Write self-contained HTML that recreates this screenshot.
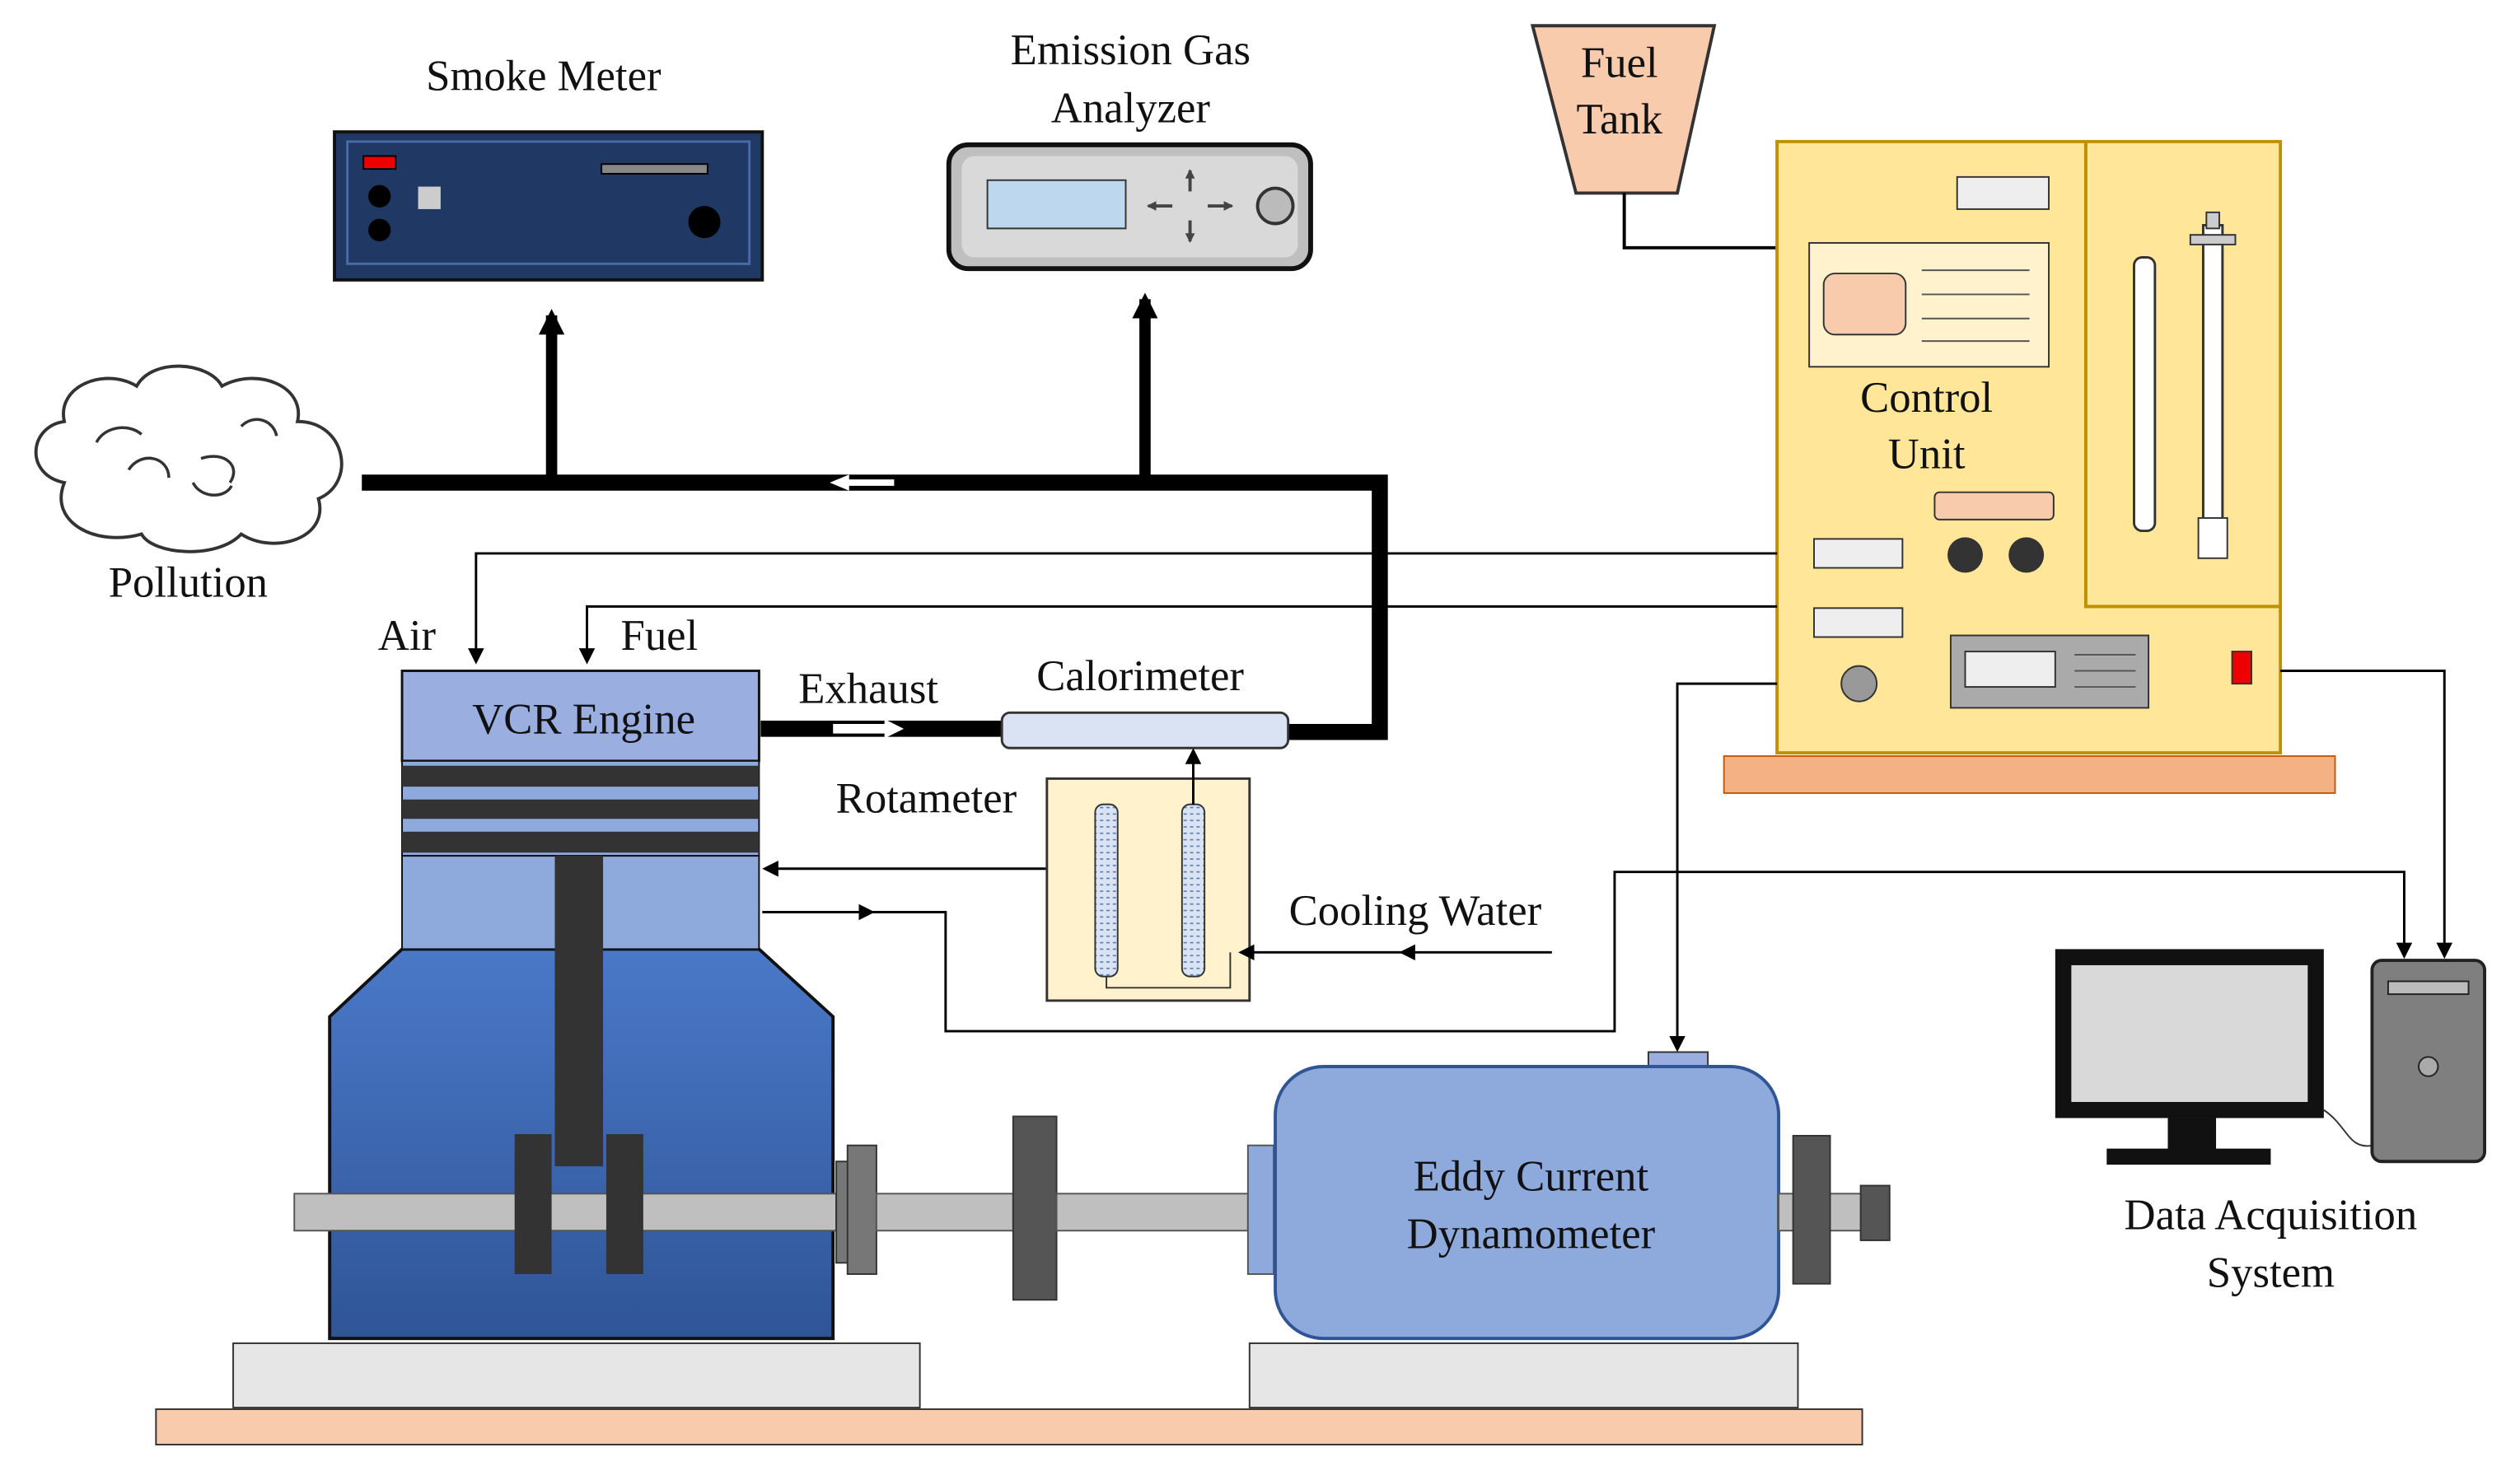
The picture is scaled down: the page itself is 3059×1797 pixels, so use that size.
<!DOCTYPE html>
<html><head><meta charset="utf-8"><style>
html,body{margin:0;padding:0;background:#fff;}
svg{display:block;}
text{font-family:"Liberation Serif",serif;font-size:27px;fill:#111;text-anchor:middle;}
</style></head><body>
<svg width="3059" height="1797" viewBox="0 0 1567 920" preserveAspectRatio="none" xmlns="http://www.w3.org/2000/svg">
<defs>
<marker id="a" markerWidth="10" markerHeight="10" refX="8" refY="5" orient="auto" markerUnits="userSpaceOnUse"><path d="M0,0 L10,5 L0,10 z" fill="#000"/></marker>
<marker id="s" markerWidth="6" markerHeight="6" refX="5" refY="3" orient="auto" markerUnits="userSpaceOnUse"><path d="M0,0 L6,3 L0,6 z" fill="#444"/></marker>
<marker id="b" markerWidth="16" markerHeight="16" refX="12" refY="8" orient="auto" markerUnits="userSpaceOnUse"><path d="M0,0 L16,8 L0,16 z" fill="#000"/></marker>
<linearGradient id="eg" x1="0" y1="0" x2="0" y2="1"><stop offset="0" stop-color="#4a78c8"/><stop offset="1" stop-color="#2f5597"/></linearGradient>
<pattern id="h" width="4" height="4" patternUnits="userSpaceOnUse"><rect width="4" height="4" fill="#dae3f3"/><path d="M0,2 h2" stroke="#5577aa" stroke-width="0.8"/></pattern>
</defs>

<text x="338" y="56">Smoke Meter</text>
<rect x="208" y="82" width="266" height="92" fill="#1f3864" stroke="#111" stroke-width="2"/>
<rect x="216" y="88" width="250" height="76" fill="none" stroke="#4a6aa8" stroke-width="1.5"/>
<rect x="226" y="97" width="20" height="8" fill="#e00" stroke="#000"/>
<circle cx="236" cy="122" r="7" fill="#000"/><circle cx="236" cy="143" r="7" fill="#000"/>
<rect x="260" y="116" width="14" height="14" fill="#ccc"/>
<rect x="374" y="102" width="66" height="6" fill="#888" stroke="#000"/>
<circle cx="438" cy="138" r="10" fill="#000"/>

<text x="703" y="40">Emission Gas</text>
<text x="703" y="76">Analyzer</text>
<rect x="590" y="90" width="225" height="77" rx="12" fill="#bfbfbf" stroke="#111" stroke-width="3"/>
<rect x="598" y="97" width="209" height="63" rx="8" fill="#d9d9d9"/>
<rect x="614" y="112" width="86" height="30" fill="#bdd7ee" stroke="#333"/>
<g stroke="#444" stroke-width="2"><line x1="740" y1="119" x2="740" y2="106" marker-end="url(#s)"/><line x1="740" y1="137" x2="740" y2="150" marker-end="url(#s)"/><line x1="729" y1="128" x2="714" y2="128" marker-end="url(#s)"/><line x1="751" y1="128" x2="766" y2="128" marker-end="url(#s)"/></g>
<circle cx="793" cy="128" r="11" fill="#bbb" stroke="#333" stroke-width="2"/>

<polygon points="953,16 1066,16 1043,120 980,120" fill="#f8cbad" stroke="#333" stroke-width="2"/>
<text x="1007" y="48">Fuel</text><text x="1007" y="83">Tank</text>
<polyline points="1010,120 1010,154 1105,154" fill="none" stroke="#000" stroke-width="2"/>

<rect x="1072" y="470" width="380" height="23" fill="#f4b183" stroke="#c55a11"/>
<rect x="1105" y="88" width="313" height="380" fill="#ffe699" stroke="#bf9000" stroke-width="2"/>
<polyline points="1297,88 1297,377 1418,377" fill="none" stroke="#bf9000" stroke-width="2"/>
<rect x="1217" y="110" width="57" height="20" fill="#eee" stroke="#333"/>
<rect x="1125" y="151" width="149" height="77" fill="#fff2cc" stroke="#333"/>
<rect x="1134" y="170" width="51" height="38" rx="7" fill="#f8cbad" stroke="#333"/>
<g stroke="#555"><line x1="1195" y1="168" x2="1262" y2="168"/><line x1="1195" y1="183" x2="1262" y2="183"/><line x1="1195" y1="198" x2="1262" y2="198"/><line x1="1195" y1="212" x2="1262" y2="212"/></g>
<text x="1198" y="256">Control</text><text x="1198" y="291">Unit</text>
<rect x="1203" y="306" width="74" height="17" rx="3" fill="#f8cbad" stroke="#333"/>
<circle cx="1222" cy="345" r="11" fill="#333"/><circle cx="1260" cy="345" r="11" fill="#333"/>
<rect x="1128" y="335" width="55" height="18" fill="#eee" stroke="#333"/>
<rect x="1128" y="378" width="55" height="18" fill="#eee" stroke="#333"/>
<circle cx="1156" cy="425" r="11" fill="#999" stroke="#333"/>
<rect x="1213" y="395" width="123" height="45" fill="#aaa" stroke="#333"/>
<rect x="1222" y="405" width="56" height="22" fill="#eee" stroke="#333"/>
<g stroke="#555"><line x1="1290" y1="407" x2="1328" y2="407"/><line x1="1290" y1="417" x2="1328" y2="417"/><line x1="1290" y1="427" x2="1328" y2="427"/></g>
<rect x="1388" y="405" width="12" height="20" fill="#e00" stroke="#333"/>
<rect x="1327" y="160" width="13" height="170" rx="5" fill="#fff" stroke="#333" stroke-width="1.5"/>
<rect x="1370" y="140" width="12" height="190" fill="#fff" stroke="#333" stroke-width="1.5"/>
<rect x="1362" y="146" width="28" height="6" fill="#ccc" stroke="#333"/>
<rect x="1372" y="132" width="8" height="10" fill="#ccc" stroke="#333"/>
<rect x="1367" y="322" width="18" height="25" fill="#fff" stroke="#333"/>

<path d="M40,300 C15,295 18,265 40,262 C35,240 65,228 85,240 C95,222 130,225 138,240 C160,228 190,240 185,262 C215,262 222,300 198,310 C205,335 170,345 150,332 C135,348 95,345 88,332 C60,340 30,325 40,300 z" fill="#fff" stroke="#333" stroke-width="2"/>
<path d="M80,292 c8,-12 25,-8 25,5 M125,285 c15,-5 25,5 18,15 M60,275 c5,-10 20,-12 28,-5 M150,265 c8,-8 20,-4 22,6 M120,300 c5,10 20,10 24,2" fill="none" stroke="#333" stroke-width="1.8"/>
<text x="117" y="371">Pollution</text>

<polyline points="225,300 858,300 858,455 800,455" fill="none" stroke="#000" stroke-width="10"/>
<line x1="473" y1="453" x2="623" y2="453" stroke="#000" stroke-width="10"/>
<line x1="343" y1="300" x2="343" y2="196" stroke="#000" stroke-width="7" marker-end="url(#b)"/>
<line x1="712" y1="300" x2="712" y2="186" stroke="#000" stroke-width="7" marker-end="url(#b)"/>
<polygon points="516,300 528,295 528,298 556,298 556,302 528,302 528,305" fill="#fff"/>
<polygon points="562,453 550,447 550,450 518,450 518,456 550,456 550,459" fill="#fff"/>

<polyline points="1105,344 296,344 296,411" fill="none" stroke="#000" stroke-width="1.5" marker-end="url(#a)"/>
<polyline points="1105,377 365,377 365,411" fill="none" stroke="#000" stroke-width="1.5" marker-end="url(#a)"/>
<text x="253" y="404">Air</text><text x="410" y="404">Fuel</text>
<polyline points="1105,425 1043,425 1043,652" fill="none" stroke="#000" stroke-width="1.5" marker-end="url(#a)"/>
<polyline points="1418,417 1520,417 1520,594" fill="none" stroke="#000" stroke-width="1.5" marker-end="url(#a)"/>
<polyline points="474,567 588,567 588,641 1004,641 1004,542 1495,542 1495,594" fill="none" stroke="#000" stroke-width="1.5" marker-end="url(#a)"/>
<line x1="520" y1="567" x2="542" y2="567" stroke="#000" marker-end="url(#a)"/>
<line x1="681" y1="540" x2="476" y2="540" stroke="#000" stroke-width="1.5" marker-end="url(#a)"/>

<text x="540" y="437">Exhaust</text>
<text x="709" y="429">Calorimeter</text>
<rect x="623" y="443" width="178" height="22" rx="5" fill="#dae3f3" stroke="#333" stroke-width="1.5"/>
<text x="576" y="505">Rotameter</text>
<rect x="651" y="484" width="126" height="138" fill="#fff2cc" stroke="#333" stroke-width="1.5"/>
<rect x="681" y="500" width="14" height="107" rx="5" fill="url(#h)" stroke="#333"/>
<rect x="735" y="500" width="14" height="107" rx="5" fill="url(#h)" stroke="#333"/>
<polyline points="688,607 688,614 765,614 765,592" fill="none" stroke="#333"/>
<line x1="742" y1="500" x2="742" y2="467" stroke="#000" stroke-width="1.5" marker-end="url(#a)"/>
<line x1="965" y1="592" x2="772" y2="592" stroke="#000" stroke-width="1.5" marker-end="url(#a)"/>
<line x1="900" y1="592" x2="872" y2="592" stroke="#000" marker-end="url(#a)"/>
<text x="880" y="575">Cooling Water</text>

<polygon points="205,632 250,590 472,590 518,632 518,832 205,832" fill="url(#eg)" stroke="#111" stroke-width="2"/>
<rect x="250" y="417" width="222" height="56" fill="#9aaee0" stroke="#111" stroke-width="1.5"/>
<text x="363" y="456">VCR Engine</text>
<rect x="250" y="473" width="222" height="59" fill="#8ea9db" stroke="#111"/>
<rect x="250" y="476" width="222" height="13" fill="#333"/>
<rect x="250" y="497" width="222" height="12" fill="#333"/>
<rect x="250" y="517" width="222" height="13" fill="#333"/>
<rect x="250" y="532" width="222" height="58" fill="#8ea9db" stroke="#111"/>
<rect x="345" y="532" width="30" height="193" fill="#333"/>
<rect x="183" y="742" width="337" height="23" fill="#bfbfbf" stroke="#555"/>
<rect x="320" y="705" width="23" height="87" fill="#333"/>
<rect x="377" y="705" width="23" height="87" fill="#333"/>
<rect x="520" y="722" width="10" height="63" fill="#777" stroke="#333"/>
<rect x="527" y="712" width="18" height="80" fill="#777" stroke="#333"/>
<rect x="545" y="742" width="85" height="23" fill="#bfbfbf" stroke="#555"/>
<rect x="630" y="694" width="27" height="114" fill="#555" stroke="#333"/>
<rect x="657" y="742" width="119" height="23" fill="#bfbfbf" stroke="#555"/>
<rect x="776" y="712" width="16" height="80" fill="#8ea9db" stroke="#555"/>

<rect x="1025" y="654" width="37" height="10" fill="#9aaee0" stroke="#333"/>
<rect x="793" y="663" width="313" height="169" rx="30" fill="#8ea9db" stroke="#2f5597" stroke-width="2"/>
<text x="952" y="740">Eddy Current</text><text x="952" y="776">Dynamometer</text>
<rect x="1106" y="742" width="54" height="23" fill="#bfbfbf" stroke="#555"/>
<rect x="1115" y="706" width="23" height="92" fill="#555" stroke="#333"/>
<rect x="1157" y="737" width="18" height="34" fill="#555" stroke="#333"/>

<rect x="145" y="835" width="427" height="40" fill="#e7e6e6" stroke="#333"/>
<rect x="777" y="835" width="341" height="40" fill="#e7e6e6" stroke="#333"/>
<rect x="97" y="876" width="1061" height="22" fill="#f8cbad" stroke="#333"/>

<rect x="1278" y="590" width="167" height="105" fill="#111"/>
<rect x="1288" y="600" width="147" height="85" fill="#d9d9d9"/>
<rect x="1348" y="695" width="30" height="20" fill="#111"/>
<rect x="1310" y="714" width="102" height="10" fill="#111"/>
<path d="M1445,690 C1460,700 1460,715 1476,712" fill="none" stroke="#333"/>
<rect x="1475" y="597" width="70" height="125" rx="6" fill="#7f7f7f" stroke="#222" stroke-width="2"/>
<rect x="1485" y="610" width="50" height="8" fill="#bbb" stroke="#222"/>
<circle cx="1510" cy="663" r="6" fill="#aaa" stroke="#222"/>
<text x="1412" y="764">Data Acquisition</text><text x="1412" y="800">System</text>
</svg>
</body></html>
